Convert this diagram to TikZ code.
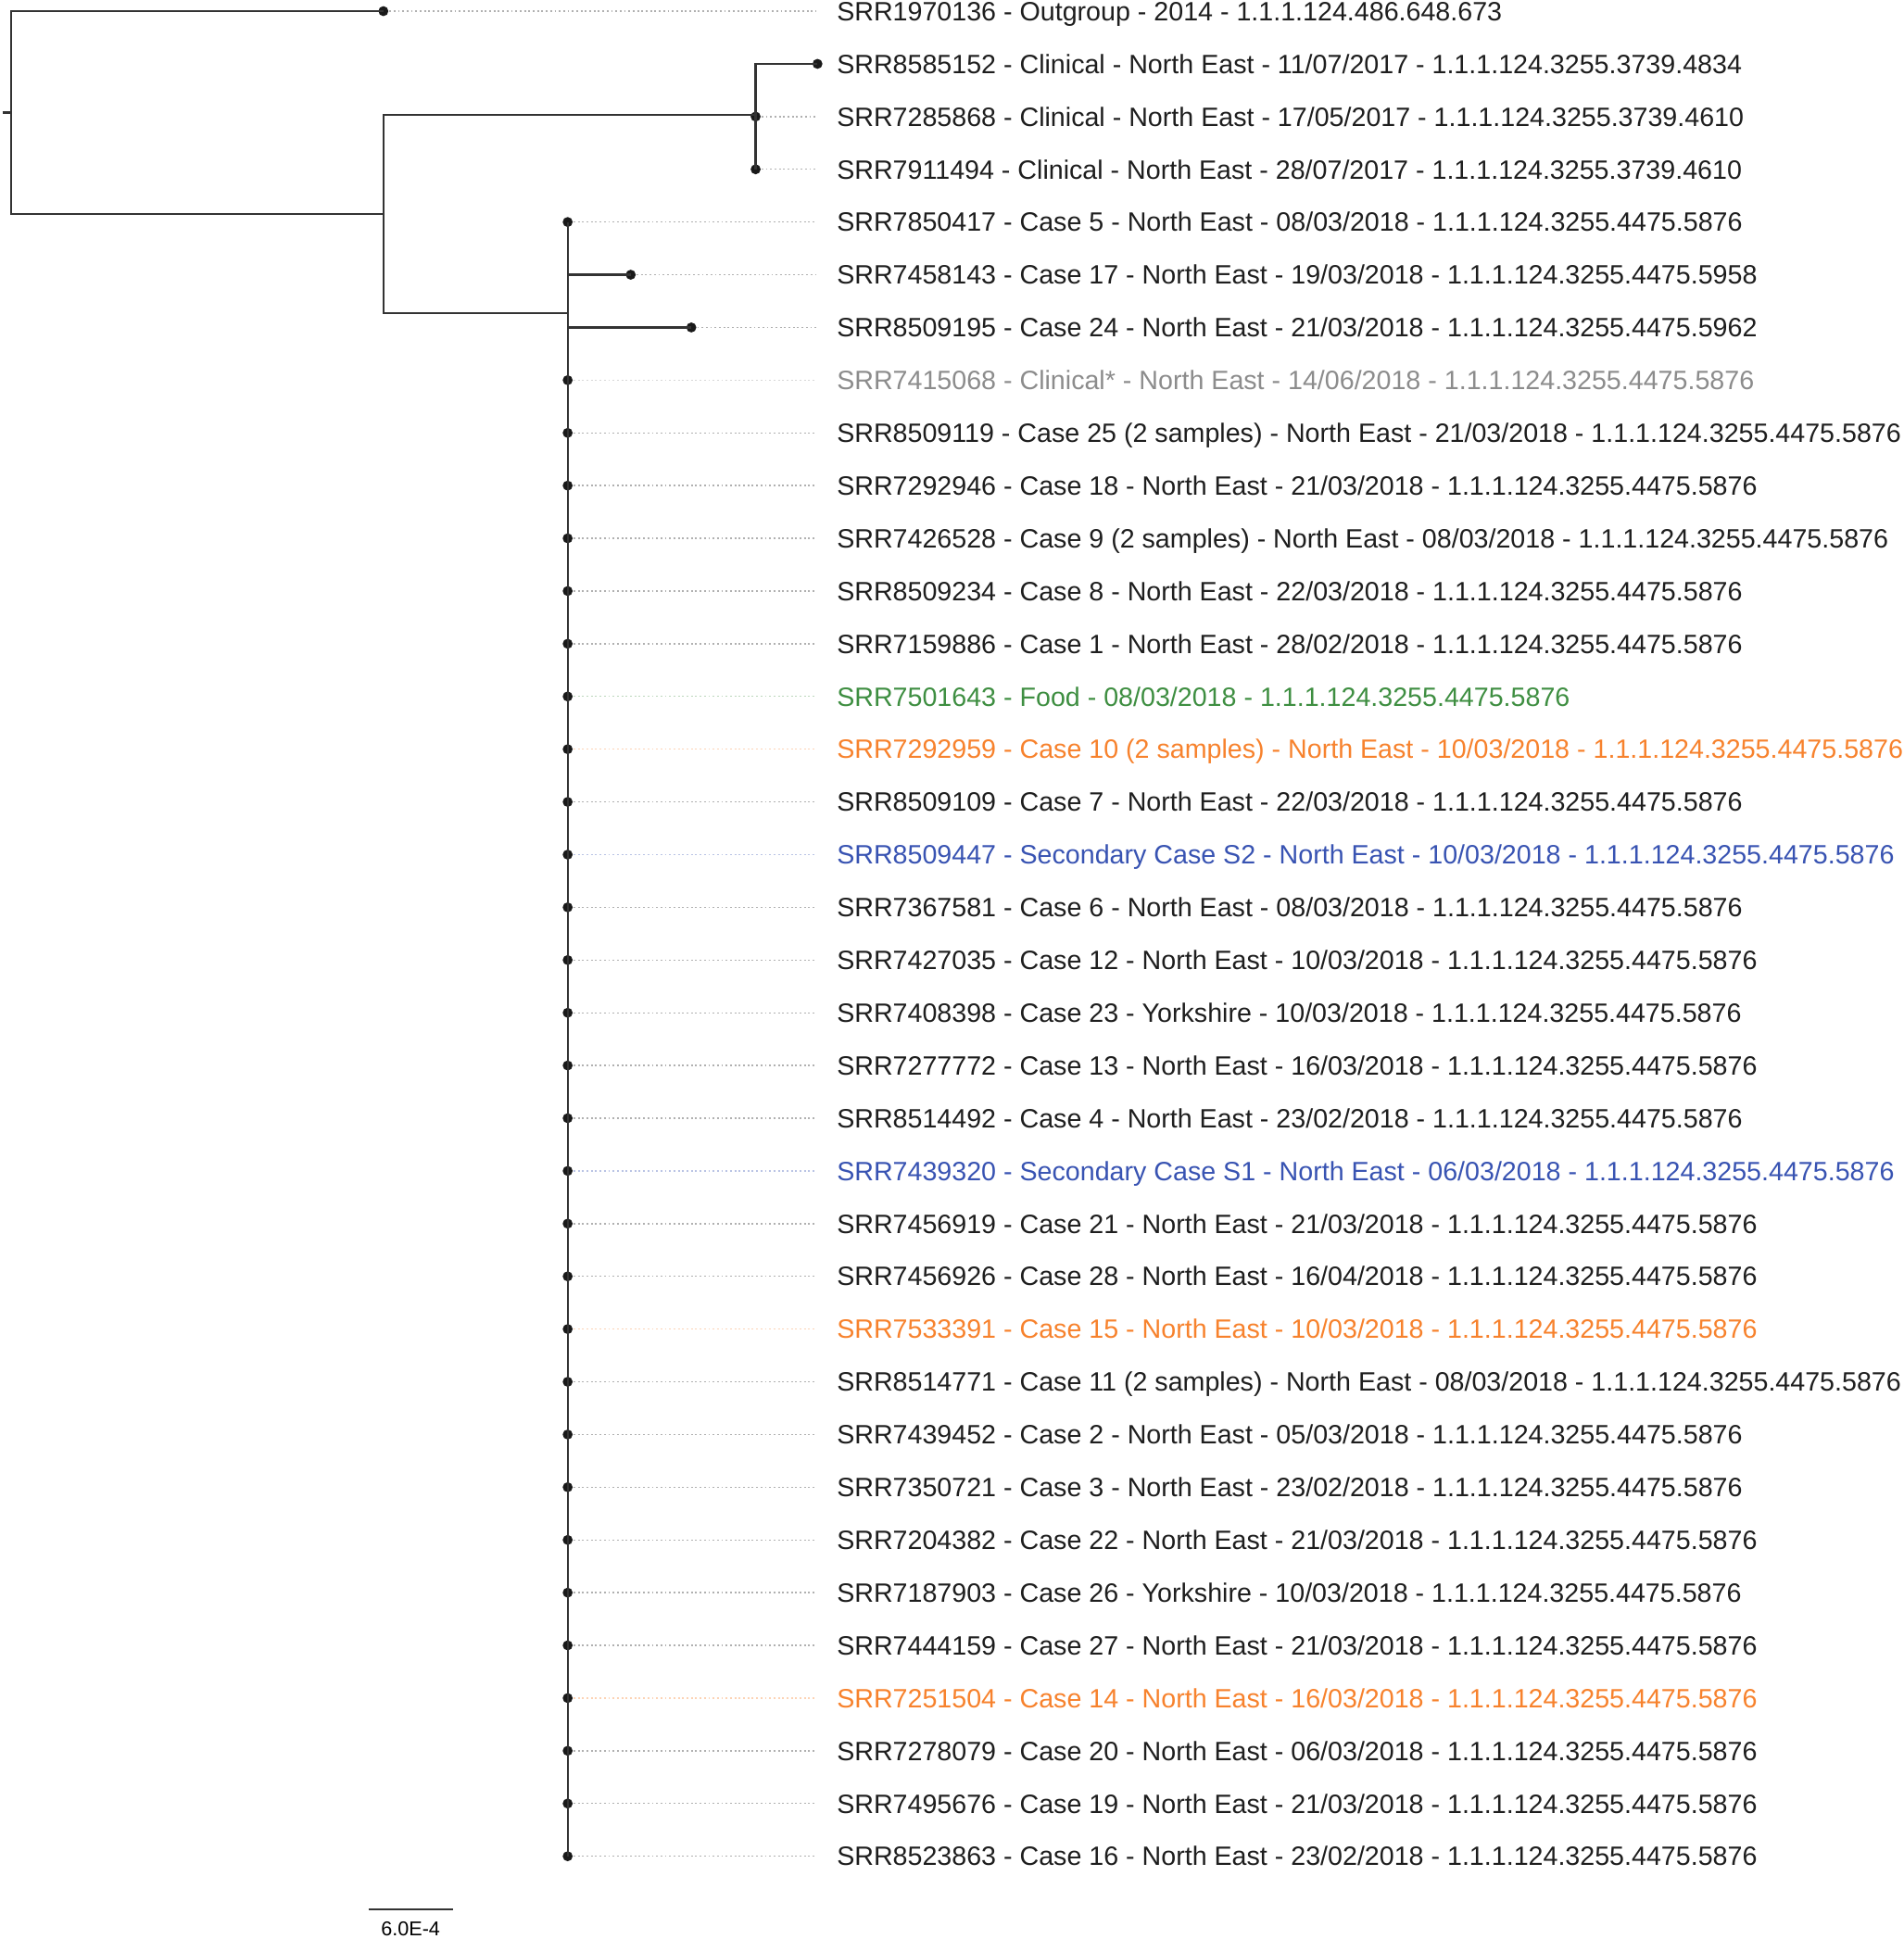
\documentclass[tikz,border=0pt]{standalone}
\usepackage{fontspec}
\setmainfont{Liberation Sans}
\definecolor{leafblack}{HTML}{1E1E1E}
\definecolor{leafgray}{HTML}{8C8C8C}
\definecolor{leafgreen}{HTML}{3E8E41}
\definecolor{leaforange}{HTML}{F7822D}
\definecolor{leafblue}{HTML}{3853B2}

\begin{document}
\begin{tikzpicture}[x=0.01cm, y=-0.01cm,
  branch/.style={draw=black!80, line width=0.5pt},
  tip/.style={circle, fill=black!90, inner sep=0pt, minimum size=2.3pt},
  leader/.style={dash pattern=on 0.4pt off 0.6pt, line width=0.3pt, shorten >=0.16cm},
  leaf/.style={anchor=west, inner sep=0pt, text height=4.37pt, text depth=0pt, font=\fontsize{6.1}{7}\selectfont}]
  \useasboundingbox (0,0) rectangle (1539,1568);

  % tips and labels
  \foreach \x/\col/\txt [count=\i] in {
    310/leafblack/{SRR1970136 - Outgroup - 2014 - 1.1.1.124.486.648.673},
    661/leafblack/{SRR8585152 - Clinical - North East - 11/07/2017 - 1.1.1.124.3255.3739.4834},
    611/leafblack/{SRR7285868 - Clinical - North East - 17/05/2017 - 1.1.1.124.3255.3739.4610},
    611/leafblack/{SRR7911494 - Clinical - North East - 28/07/2017 - 1.1.1.124.3255.3739.4610},
    459/leafblack/{SRR7850417 - Case 5 - North East - 08/03/2018 - 1.1.1.124.3255.4475.5876},
    510/leafblack/{SRR7458143 - Case 17 - North East - 19/03/2018 - 1.1.1.124.3255.4475.5958},
    559/leafblack/{SRR8509195 - Case 24 - North East - 21/03/2018 - 1.1.1.124.3255.4475.5962},
    459/leafgray/{SRR7415068 - Clinical* - North East - 14/06/2018 - 1.1.1.124.3255.4475.5876},
    459/leafblack/{SRR8509119 - Case 25 (2 samples) - North East - 21/03/2018 - 1.1.1.124.3255.4475.5876},
    459/leafblack/{SRR7292946 - Case 18 - North East - 21/03/2018 - 1.1.1.124.3255.4475.5876},
    459/leafblack/{SRR7426528 - Case 9 (2 samples) - North East - 08/03/2018 - 1.1.1.124.3255.4475.5876},
    459/leafblack/{SRR8509234 - Case 8 - North East - 22/03/2018 - 1.1.1.124.3255.4475.5876},
    459/leafblack/{SRR7159886 - Case 1 - North East - 28/02/2018 - 1.1.1.124.3255.4475.5876},
    459/leafgreen/{SRR7501643 - Food - 08/03/2018 - 1.1.1.124.3255.4475.5876},
    459/leaforange/{SRR7292959 - Case 10 (2 samples) - North East - 10/03/2018 - 1.1.1.124.3255.4475.5876},
    459/leafblack/{SRR8509109 - Case 7 - North East - 22/03/2018 - 1.1.1.124.3255.4475.5876},
    459/leafblue/{SRR8509447 - Secondary Case S2 - North East - 10/03/2018 - 1.1.1.124.3255.4475.5876},
    459/leafblack/{SRR7367581 - Case 6 - North East - 08/03/2018 - 1.1.1.124.3255.4475.5876},
    459/leafblack/{SRR7427035 - Case 12 - North East - 10/03/2018 - 1.1.1.124.3255.4475.5876},
    459/leafblack/{SRR7408398 - Case 23 - Yorkshire - 10/03/2018 - 1.1.1.124.3255.4475.5876},
    459/leafblack/{SRR7277772 - Case 13 - North East - 16/03/2018 - 1.1.1.124.3255.4475.5876},
    459/leafblack/{SRR8514492 - Case 4 - North East - 23/02/2018 - 1.1.1.124.3255.4475.5876},
    459/leafblue/{SRR7439320 - Secondary Case S1 - North East - 06/03/2018 - 1.1.1.124.3255.4475.5876},
    459/leafblack/{SRR7456919 - Case 21 - North East - 21/03/2018 - 1.1.1.124.3255.4475.5876},
    459/leafblack/{SRR7456926 - Case 28 - North East - 16/04/2018 - 1.1.1.124.3255.4475.5876},
    459/leaforange/{SRR7533391 - Case 15 - North East - 10/03/2018 - 1.1.1.124.3255.4475.5876},
    459/leafblack/{SRR8514771 - Case 11 (2 samples) - North East - 08/03/2018 - 1.1.1.124.3255.4475.5876},
    459/leafblack/{SRR7439452 - Case 2 - North East - 05/03/2018 - 1.1.1.124.3255.4475.5876},
    459/leafblack/{SRR7350721 - Case 3 - North East - 23/02/2018 - 1.1.1.124.3255.4475.5876},
    459/leafblack/{SRR7204382 - Case 22 - North East - 21/03/2018 - 1.1.1.124.3255.4475.5876},
    459/leafblack/{SRR7187903 - Case 26 - Yorkshire - 10/03/2018 - 1.1.1.124.3255.4475.5876},
    459/leafblack/{SRR7444159 - Case 27 - North East - 21/03/2018 - 1.1.1.124.3255.4475.5876},
    459/leaforange/{SRR7251504 - Case 14 - North East - 16/03/2018 - 1.1.1.124.3255.4475.5876},
    459/leafblack/{SRR7278079 - Case 20 - North East - 06/03/2018 - 1.1.1.124.3255.4475.5876},
    459/leafblack/{SRR7495676 - Case 19 - North East - 21/03/2018 - 1.1.1.124.3255.4475.5876},
    459/leafblack/{SRR8523863 - Case 16 - North East - 23/02/2018 - 1.1.1.124.3255.4475.5876}}{
    \pgfmathsetmacro\y{9+(\i-1)*42.63}
    \node[tip] (t\i) at (\x,\y) {};
    \node[leaf, text=\col] (l\i) at (676,\y) {\txt};
    \ifnum\x<650
      \draw[leader, draw=\col!35] (t\i) -- (l\i.west);
    \fi
  }

  % internal nodes
  \coordinate (stub) at (2,91);
  \coordinate (root) at (9,91);
  \coordinate (nA) at (310,173);
  \coordinate (nC) at (611,93);
  \coordinate (nO) at (459,253);

  \draw[branch] (stub) -- (root);
  \draw[branch] (t1.center) -| (root |- nA) -- (nA);
  \draw[branch] (nC) -| (nA) |- (nO);
  \draw[branch] (t2.center) -| (t4.center);
  \draw[branch] (t5.center) -- (t36.center);
  \draw[branch] (t6.center) -- (t6 -| t5);
  \draw[branch] (t7.center) -- (t7 -| t5);

  % scale bar
  \coordinate (sbl) at (298,1544);
  \coordinate (sbr) at (366,1544);
  \draw[branch] (sbl) -- (sbr);
  \node[font=\fontsize{4.6}{5}\selectfont, inner sep=0pt] (sblab) at (332,1560) {6.0E-4};
\end{tikzpicture}
\end{document}
